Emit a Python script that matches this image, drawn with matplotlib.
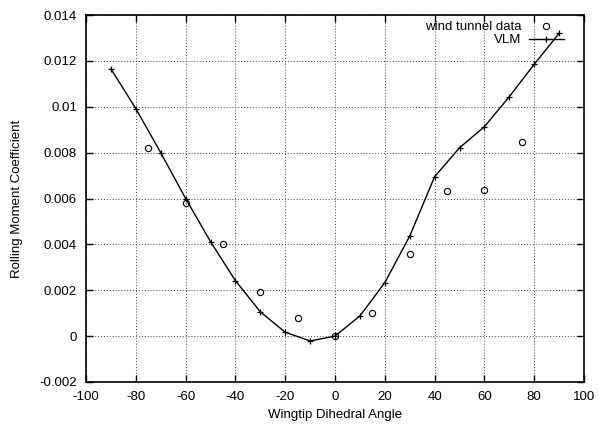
import numpy as np
import matplotlib.pyplot as plt
from matplotlib.ticker import FuncFormatter

plt.rcParams['font.family'] = ['Liberation Sans', 'DejaVu Sans']
plt.rcParams['axes.unicode_minus'] = False

# VLM results
vlm_angle = [-90, -80, -70, -60, -50, -40, -30, -20, -10, 0,
             10, 20, 30, 40, 50, 60, 70, 80, 90]
vlm_cl = [0.01165, 0.00992, 0.0080, 0.0060, 0.00412, 0.00242, 0.00106, 0.00017, -0.00021, 0.0,
          0.00088, 0.00233, 0.00436, 0.00695, 0.00821, 0.00913, 0.01044, 0.01185, 0.0132]

# wind tunnel measurements
wt_angle = [-75, -60, -45, -30, -15, 0, 15, 30, 45, 60, 75]
wt_cl = [0.0082, 0.0058, 0.00402, 0.00192, 0.00079, 0.0, 0.0010, 0.00358, 0.00633, 0.00637, 0.00846]

fig = plt.figure(figsize=(5.98, 4.26), dpi=100)
ax = fig.add_axes([86 / 598, 1 - 382 / 426, 498 / 598, 367 / 426])

ax.plot(wt_angle, wt_cl, linestyle='none', marker='o', markersize=4.5,
        markerfacecolor='none', markeredgecolor='black', markeredgewidth=0.8,
        label='wind tunnel data')
ax.plot(vlm_angle, vlm_cl, color='black', linewidth=1.0, marker='+',
        markersize=5, markeredgewidth=0.9, label='VLM')

ax.set_xlim(-100, 100)
ax.set_ylim(-0.002, 0.014)
ax.set_xticks(np.arange(-100, 101, 20))
ax.set_yticks(np.arange(-0.002, 0.0141, 0.002))
ax.yaxis.set_major_formatter(FuncFormatter(lambda v, p: '%g' % round(v, 6)))

ax.grid(True, color='#444444', linestyle=(0, (1, 2)), linewidth=0.7)
ax.tick_params(direction='in', top=True, right=True, length=5, width=1.0,
               labelsize=9.5, pad=6.5)
for s in ax.spines.values():
    s.set_linewidth(1.2)

ax.set_xlabel('Wingtip Dihedral Angle', fontsize=9.5, labelpad=4)
ax.set_ylabel('Rolling Moment Coefficient', fontsize=9.5, labelpad=12)

leg = ax.legend(loc='upper right', frameon=False, markerfirst=False, fontsize=9.5,
                handlelength=2.6, handletextpad=0.6, labelspacing=0.05,
                borderaxespad=0.2, bbox_to_anchor=(0.975, 1.005))
for t in leg.get_texts():
    t.set_ha('right')

fig.savefig('out.png', dpi=100)
